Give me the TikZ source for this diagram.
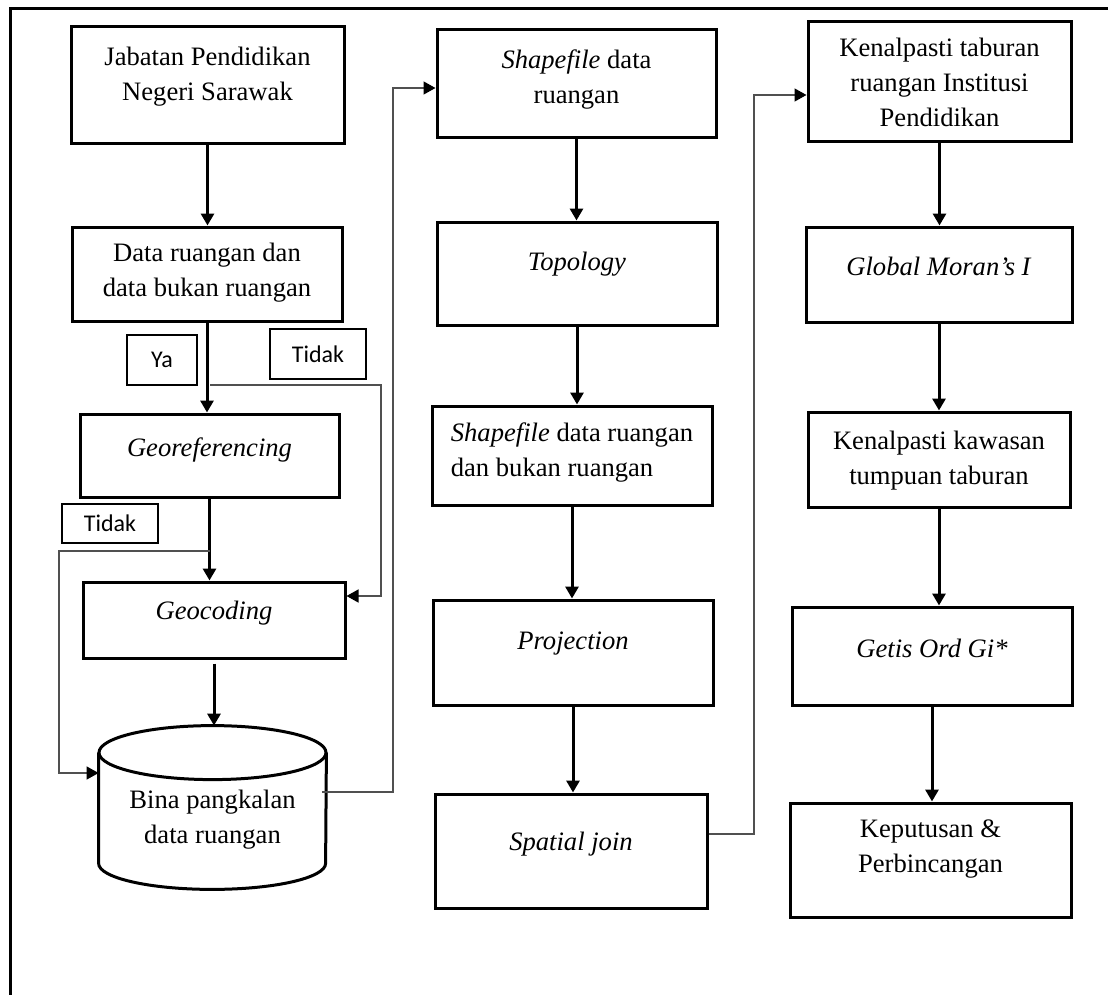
\documentclass[tikz,border=0pt]{standalone}
\usepackage{fontspec}
\setmainfont{Liberation Serif}
\newfontfamily\tagfont{Carlito}
\usetikzlibrary{arrows.meta}
\definecolor{LinkGrey}{RGB}{80, 80, 80}

\begin{document}
\begin{tikzpicture}[x=0.5pt, y=-0.5pt,
    box/.style={draw, line width=1.5pt, rectangle, align=center, inner sep=2pt,
      font=\fontsize{13.3}{17.5}\selectfont, text depth=12pt},
    dbody/.style={rectangle, align=center, inner sep=0pt, minimum width=113.5pt, minimum height=55pt,
      font=\fontsize{13.3}{17.5}\selectfont, text height=38.5pt, text depth=3pt},
    dbline/.style={line width=1.5pt},
    tag/.style={draw, line width=0.8pt, inner sep=0pt,
      font=\tagfont\fontsize{12}{14}\selectfont},
    flow/.style={line width=1.5pt, -{Triangle[length=6pt, width=6.5pt]}},
    link/.style={line width=0.7pt, LinkGrey, -{Triangle[length=6pt, width=6.5pt, color=black]}}]
    \useasboundingbox (0,0) rectangle (1108,995);

    % Frame
    \draw[line width=1.5pt] (10,995) -- (10,9) -- (1108,9);

    % Column 1
    \node[box, minimum width=136.5pt, minimum height=58.5pt] (jpn) at (207.5,85.5) {Jabatan Pendidikan\\Negeri Sarawak};
    \node[box, minimum width=135pt, minimum height=47pt, text depth=4.5pt] (data) at (207,274) {Data ruangan dan\\data bukan ruangan};
    \node[box, minimum width=129.5pt, minimum height=41.5pt, text depth=8pt] (georef) at (209.5,455.5) {\textit{Georeferencing}};
    \node[box, minimum width=131pt, minimum height=38pt, text depth=10pt] (geocod) at (214,620) {\textit{Geocoding}};

    % Database drum
    \node[dbody] (db) at (212.5,808) {Bina pangkalan\\data ruangan};
    \draw[dbline] (db.north) ellipse [x radius=56.75pt, y radius=13.5pt];
    \draw[dbline] (db.north west) -- (db.south west)
      arc [start angle=180, end angle=360, x radius=56.75pt, y radius=13pt]
      -- (db.north east);

    \draw[flow] (jpn.south) -- (jpn.south |- data.north);
    \draw[flow] (data.south) -- (data.south |- georef.north);
    \draw[flow] (georef.south) -- (georef.south |- geocod.north);
    \draw[flow] ([yshift=-2pt]geocod.south) -- ([yshift=13.5pt]geocod.south |- db.north);

    % Ya / Tidak
    \node[tag, minimum width=35pt, minimum height=25pt] (ya) at (162,360) {Ya};
    \node[tag, minimum width=48pt, minimum height=25pt] (tidak1) at (318,354) {Tidak};
    \node[tag, minimum width=48pt, minimum height=19.5pt] (tidak2) at (110,523.5) {Tidak};

    \coordinate (split1) at (210,385);
    \coordinate (bus1) at (381,385);
    \draw[link] (split1) -- (bus1) |- ([yshift=12pt]geocod.east);
    \coordinate (split2) at (210,551);
    \coordinate (bus2) at (59,551);
    \coordinate (dbin) at (0,773);
    \draw[link] (split2) -- (bus2) |- (db.west |- dbin);

    % Column 2
    \node[box, minimum width=139.5pt, minimum height=54pt, text depth=7.5pt] (shp1) at (576.5,84) {\textit{Shapefile} data\\ruangan};
    \node[box, minimum width=140pt, minimum height=51.5pt] (topo) at (577,273.5) {\textit{Topology}};
    \node[box, minimum width=140pt, minimum height=49.5pt, text depth=6pt, align=left] (shp2) at (572,455.5) {\textit{Shapefile} data ruangan\\dan bukan ruangan};
    \node[box, minimum width=140pt, minimum height=52.5pt] (proj) at (573,652.5) {\textit{Projection}};
    \node[box, minimum width=136pt, minimum height=57pt, text depth=10pt] (sjoin) at (571,851) {\textit{Spatial join}};

    \draw[flow] (shp1.south) -- (shp1.south |- topo.north);
    \draw[flow] (topo.south) -- (topo.south |- shp2.north);
    \draw[flow] (shp2.south) -- (shp2.south |- proj.north);
    \draw[flow] (proj.south) -- (proj.south |- sjoin.north);

    \coordinate (dbout) at (0,792);
    \coordinate (bus3) at (393,88);
    \draw[link] ([xshift=-2pt]db.east |- dbout) -| (bus3) -- (bus3 -| shp1.west);

    % Column 3
    \node[box, minimum width=131.5pt, minimum height=60pt, text depth=0pt] (ken1) at (939.5,82) {Kenalpasti taburan\\ruangan Institusi\\Pendidikan};
    \node[box, minimum width=133pt, minimum height=47.5pt, text depth=8.5pt] (moran) at (939,274.5) {\textit{Global Moran’s I}};
    \node[box, minimum width=131pt, minimum height=47.5pt, text depth=1.5pt] (ken2) at (939,459.5) {Kenalpasti kawasan\\tumpuan taburan};
    \node[box, minimum width=140pt, minimum height=49pt, text depth=8pt] (getis) at (932,656) {\textit{Getis Ord Gi*}};
    \node[box, minimum width=140.5pt, minimum height=57pt, text depth=13.5pt] (keput) at (930.5,860) {Keputusan \&\\Perbincangan};

    \draw[flow] (ken1.south) -- (ken1.south |- moran.north);
    \draw[flow] (moran.south) -- (moran.south |- ken2.north);
    \draw[flow] (ken2.south) -- (ken2.south |- getis.north);
    \draw[flow] (getis.south) -- (getis.south |- keput.north);

    \coordinate (bus4) at (754,95);
    \draw[link] ([yshift=8.5pt]sjoin.east) -| (bus4) -- (bus4 -| ken1.west);
\end{tikzpicture}
\end{document}
